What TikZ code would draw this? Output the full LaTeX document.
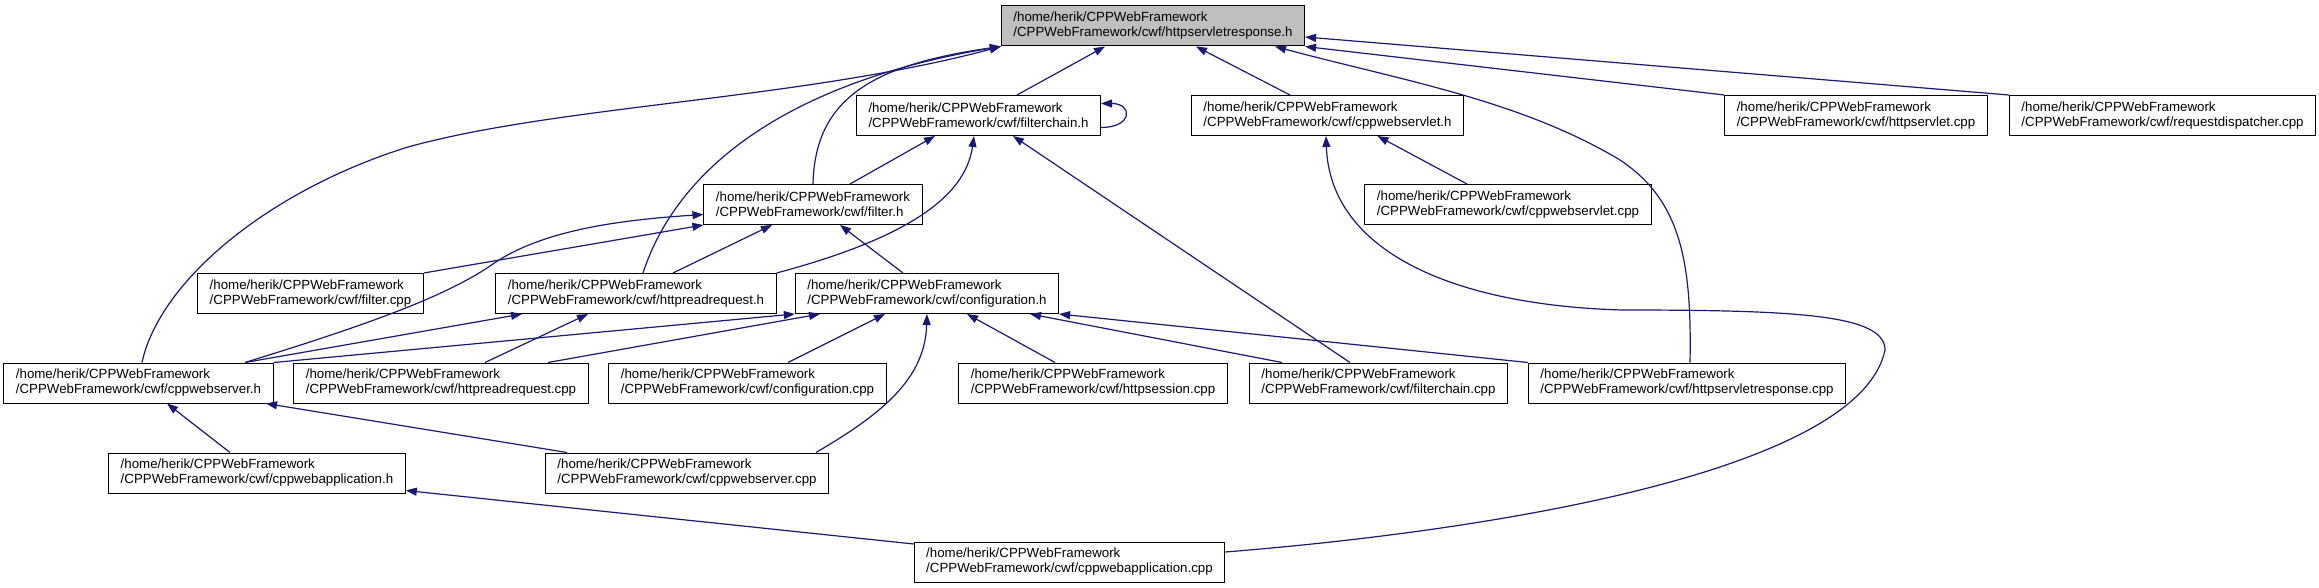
\documentclass[tikz,border=0pt]{standalone}
\usepackage{fontspec}
\setmainfont{Liberation Sans}
\usetikzlibrary{arrows.meta}
\definecolor{edgec}{HTML}{191970}
\definecolor{curc}{HTML}{BFBFBF}

\begin{document}
\begin{tikzpicture}[
    x=1pt, y=-1pt,
    font=\fontsize{13.3}{15}\selectfont,
    file/.style={
      draw=black, line width=1pt, fill=white, align=left,
      inner xsep=12pt, inner ysep=3pt, minimum height=40pt},
    cur/.style={file, fill=curc},
    inc/.style={draw=edgec, line width=1.2pt,
      -{Triangle[length=11pt,width=8pt]}}
  ]
  \useasboundingbox (0,0) rectangle (2319,588);

  % --- the header itself
  \node[cur] (resph) at (1153,26)
    {/home/herik/CPPWebFramework\\/CPPWebFramework/cwf/httpservletresponse.h};

  % --- rank 2
  \node[file] (chainh) at (978.5,115.5)
    {/home/herik/CPPWebFramework\\/CPPWebFramework/cwf/filterchain.h};
  \node[file] (servleth) at (1327.5,115.5)
    {/home/herik/CPPWebFramework\\/CPPWebFramework/cwf/cppwebservlet.h};
  \node[file] (httpsvcpp) at (1856,115.5)
    {/home/herik/CPPWebFramework\\/CPPWebFramework/cwf/httpservlet.cpp};
  \node[file] (dispcpp) at (2162.5,115.5)
    {/home/herik/CPPWebFramework\\/CPPWebFramework/cwf/requestdispatcher.cpp};

  % --- rank 3
  \node[file] (filterh) at (813,204.5)
    {/home/herik/CPPWebFramework\\/CPPWebFramework/cwf/filter.h};
  \node[file] (servletcpp) at (1508,204.5)
    {/home/herik/CPPWebFramework\\/CPPWebFramework/cwf/cppwebservlet.cpp};

  % --- rank 4
  \node[file] (filtercpp) at (310.5,293.5)
    {/home/herik/CPPWebFramework\\/CPPWebFramework/cwf/filter.cpp};
  \node[file] (readh) at (636,293.5)
    {/home/herik/CPPWebFramework\\/CPPWebFramework/cwf/httpreadrequest.h};
  \node[file] (configh) at (927,293.5)
    {/home/herik/CPPWebFramework\\/CPPWebFramework/cwf/configuration.h};

  % --- rank 5
  \node[file] (serverh) at (138.5,383)
    {/home/herik/CPPWebFramework\\/CPPWebFramework/cwf/cppwebserver.h};
  \node[file] (readcpp) at (441,383)
    {/home/herik/CPPWebFramework\\/CPPWebFramework/cwf/httpreadrequest.cpp};
  \node[file] (configcpp) at (747.5,383)
    {/home/herik/CPPWebFramework\\/CPPWebFramework/cwf/configuration.cpp};
  \node[file] (sessioncpp) at (1093,383)
    {/home/herik/CPPWebFramework\\/CPPWebFramework/cwf/httpsession.cpp};
  \node[file] (chaincpp) at (1378.5,383)
    {/home/herik/CPPWebFramework\\/CPPWebFramework/cwf/filterchain.cpp};
  \node[file] (respcpp) at (1687,383)
    {/home/herik/CPPWebFramework\\/CPPWebFramework/cwf/httpservletresponse.cpp};

  % --- rank 6
  \node[file] (apph) at (257,473)
    {/home/herik/CPPWebFramework\\/CPPWebFramework/cwf/cppwebapplication.h};
  \node[file] (servercpp) at (687,473)
    {/home/herik/CPPWebFramework\\/CPPWebFramework/cwf/cppwebserver.cpp};

  % --- rank 7
  \node[file] (appcpp) at (1069.5,562)
    {/home/herik/CPPWebFramework\\/CPPWebFramework/cwf/cppwebapplication.cpp};

  % --- included by httpservletresponse.h
  \draw[inc] ([xshift=3.5pt]serverh.north) .. controls (160,280) and (270,190) .. (408,147)
    .. controls (560,105) and (800,100) .. (resph.south west);
  \draw[inc] (filterh.north) .. controls (815,100) and (870,65) .. (resph.south west);
  \draw[inc] ([xshift=7pt]readh.north) .. controls (680,160) and (800,80) .. (resph.south west);
  \draw[inc] ([xshift=38.5pt]chainh.north) -- ([xshift=-48pt]resph.south);
  \draw[inc] ([xshift=-37.5pt]servleth.north) -- ([xshift=43pt]resph.south);
  \draw[inc] ([xshift=3pt]respcpp.north) .. controls (1692,260) and (1680,200) .. (1620,160)
    .. controls (1520,100) and (1400,80) .. ([xshift=122pt]resph.south);
  \draw[inc] (httpsvcpp.north west) -- (resph.south east);
  \draw[inc] (dispcpp.north west) -- ([yshift=-11pt]resph.east);
  \draw[inc] ([yshift=-12pt]chainh.east) .. controls +(32,0) and +(32,0) .. ([yshift=12pt]chainh.east);

  % --- filterchain.h
  \draw[inc] ([xshift=37pt]filterh.north) -- ([xshift=-43.5pt]chainh.south);
  \draw[inc] (readh.north east) .. controls (900,240) and (965,200) .. ([xshift=-4.5pt]chainh.south);
  \draw[inc] ([xshift=-28.5pt]chaincpp.north) -- ([xshift=34.5pt]chainh.south);

  % --- cppwebservlet.h
  \draw[inc] ([xshift=-41pt]servletcpp.north) -- ([xshift=50pt]servleth.south);
  \draw[inc] ([yshift=10pt]appcpp.east) .. controls (1500,530) and (1860,470) .. (1885,350)
    .. controls (1885,315) and (1800,310) .. (1622,310)
    .. controls (1450,305) and (1330,250) .. ([xshift=-1.5pt]servleth.south);

  % --- filter.h
  \draw[inc] (filtercpp.north east) -- (filterh.south west);
  \draw[inc] ([xshift=106.5pt]serverh.north) .. controls (350,330) and (440,300) .. (490,266)
    .. controls (540,230) and (620,220) .. ([yshift=-10pt]filterh.west);
  \draw[inc] ([xshift=37pt]readh.north) -- ([xshift=-41pt]filterh.south);
  \draw[inc] ([xshift=-24pt]configh.north) -- ([xshift=27pt]filterh.south);

  % --- httpreadrequest.h
  \draw[inc] ([xshift=106.5pt]serverh.north) -- ([xshift=-114pt]readh.south);
  \draw[inc] ([xshift=44pt]readcpp.north) -- ([xshift=-48pt]readh.south);

  % --- configuration.h
  \draw[inc] (serverh.north east) -- (configh.south west);
  \draw[inc] ([xshift=107pt]readcpp.north) -- ([xshift=-107pt]configh.south);
  \draw[inc] ([xshift=40.5pt]configcpp.north) -- ([xshift=-42pt]configh.south);
  \draw[inc] ([xshift=129pt]servercpp.north) .. controls (880,415) and (925,380) .. (configh.south);
  \draw[inc] ([xshift=-38pt]sessioncpp.north) -- ([xshift=40pt]configh.south);
  \draw[inc] ([xshift=-96.5pt]chaincpp.north) -- ([xshift=103pt]configh.south);
  \draw[inc] (respcpp.north west) -- (configh.south east);

  % --- cppwebserver.h
  \draw[inc] ([xshift=-27pt]apph.north) -- ([xshift=28.5pt]serverh.south);
  \draw[inc] ([xshift=-120pt]servercpp.north) -- ([xshift=127.5pt]serverh.south);

  % --- cppwebapplication.h
  \draw[inc] ([yshift=18pt]appcpp.west) -- ([yshift=3pt]apph.south east);

\end{tikzpicture}
\end{document}
